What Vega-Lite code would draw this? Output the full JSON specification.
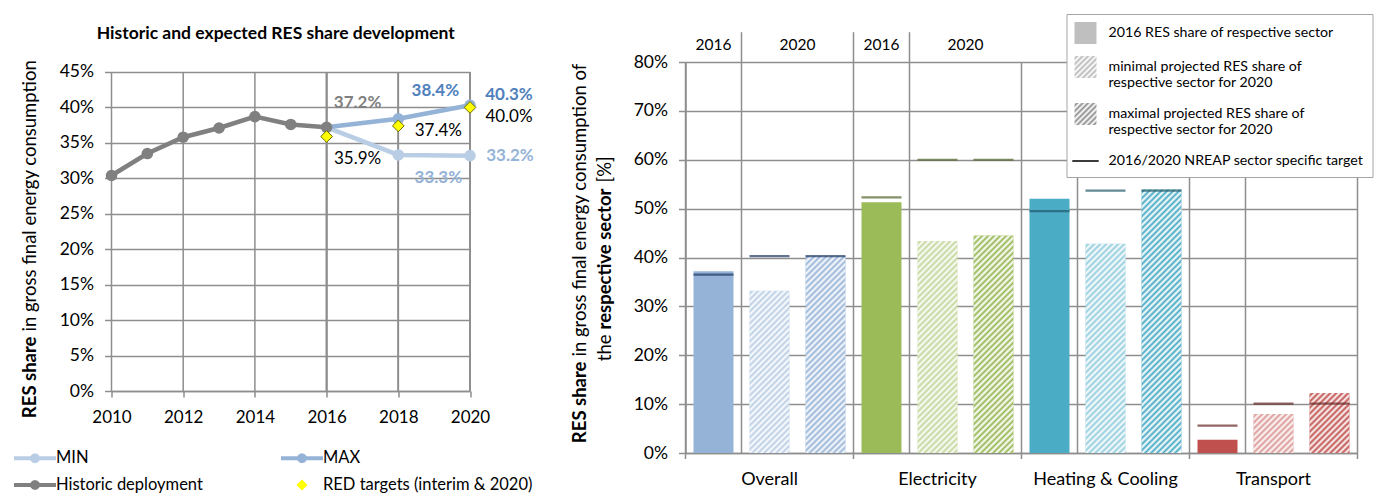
{
  "$schema": "https://vega.github.io/schema/vega-lite/v6.json",
  "background": "white",
  "padding": {"left": 19.5, "top": 13, "right": 5, "bottom": 5},
  "spacing": 215,
  "bounds": "flush",
  "resolve": {
    "scale": {"color": "independent", "fill": "independent", "shape": "independent", "stroke": "independent"},
    "legend": {"color": "independent", "fill": "independent", "shape": "independent", "stroke": "independent"}
  },
  "config": {
    "font": "Lato",
    "view": {"stroke": null},
    "axis": {"domainColor": "#8e8e8e", "domainWidth": 1.5, "tickColor": "#8e8e8e", "tickWidth": 1.5, "gridColor": "#8e8e8e", "gridWidth": 1.5, "gridOpacity": 1, "labelColor": "#000", "titleColor": "#000", "labelFont": "Lato", "titleFont": "Lato"},
    "legend": {"labelFont": "Lato", "labelColor": "#000"}
  },
  "params": [
    {"name": "hatch", "value": [
      {"offset":0,"color":"#fff"},{"offset":0.01,"color":"#fff0"},{"offset":0.02,"color":"#fff"},{"offset":0.03,"color":"#fff0"},{"offset":0.04,"color":"#fff"},{"offset":0.05,"color":"#fff0"},{"offset":0.06,"color":"#fff"},{"offset":0.07,"color":"#fff0"},{"offset":0.08,"color":"#fff"},{"offset":0.09,"color":"#fff0"},
      {"offset":0.1,"color":"#fff"},{"offset":0.11,"color":"#fff0"},{"offset":0.12,"color":"#fff"},{"offset":0.13,"color":"#fff0"},{"offset":0.14,"color":"#fff"},{"offset":0.15,"color":"#fff0"},{"offset":0.16,"color":"#fff"},{"offset":0.17,"color":"#fff0"},{"offset":0.18,"color":"#fff"},{"offset":0.19,"color":"#fff0"},
      {"offset":0.2,"color":"#fff"},{"offset":0.21,"color":"#fff0"},{"offset":0.22,"color":"#fff"},{"offset":0.23,"color":"#fff0"},{"offset":0.24,"color":"#fff"},{"offset":0.25,"color":"#fff0"},{"offset":0.26,"color":"#fff"},{"offset":0.27,"color":"#fff0"},{"offset":0.28,"color":"#fff"},{"offset":0.29,"color":"#fff0"},
      {"offset":0.3,"color":"#fff"},{"offset":0.31,"color":"#fff0"},{"offset":0.32,"color":"#fff"},{"offset":0.33,"color":"#fff0"},{"offset":0.34,"color":"#fff"},{"offset":0.35,"color":"#fff0"},{"offset":0.36,"color":"#fff"},{"offset":0.37,"color":"#fff0"},{"offset":0.38,"color":"#fff"},{"offset":0.39,"color":"#fff0"},
      {"offset":0.4,"color":"#fff"},{"offset":0.41,"color":"#fff0"},{"offset":0.42,"color":"#fff"},{"offset":0.43,"color":"#fff0"},{"offset":0.44,"color":"#fff"},{"offset":0.45,"color":"#fff0"},{"offset":0.46,"color":"#fff"},{"offset":0.47,"color":"#fff0"},{"offset":0.48,"color":"#fff"},{"offset":0.49,"color":"#fff0"},
      {"offset":0.5,"color":"#fff"},{"offset":0.51,"color":"#fff0"},{"offset":0.52,"color":"#fff"},{"offset":0.53,"color":"#fff0"},{"offset":0.54,"color":"#fff"},{"offset":0.55,"color":"#fff0"},{"offset":0.56,"color":"#fff"},{"offset":0.57,"color":"#fff0"},{"offset":0.58,"color":"#fff"},{"offset":0.59,"color":"#fff0"},
      {"offset":0.6,"color":"#fff"},{"offset":0.61,"color":"#fff0"},{"offset":0.62,"color":"#fff"},{"offset":0.63,"color":"#fff0"},{"offset":0.64,"color":"#fff"},{"offset":0.65,"color":"#fff0"},{"offset":0.66,"color":"#fff"},{"offset":0.67,"color":"#fff0"},{"offset":0.68,"color":"#fff"},{"offset":0.69,"color":"#fff0"},
      {"offset":0.7,"color":"#fff"},{"offset":0.71,"color":"#fff0"},{"offset":0.72,"color":"#fff"},{"offset":0.73,"color":"#fff0"},{"offset":0.74,"color":"#fff"},{"offset":0.75,"color":"#fff0"},{"offset":0.76,"color":"#fff"},{"offset":0.77,"color":"#fff0"},{"offset":0.78,"color":"#fff"},{"offset":0.79,"color":"#fff0"},
      {"offset":0.8,"color":"#fff"},{"offset":0.81,"color":"#fff0"},{"offset":0.82,"color":"#fff"},{"offset":0.83,"color":"#fff0"},{"offset":0.84,"color":"#fff"},{"offset":0.85,"color":"#fff0"},{"offset":0.86,"color":"#fff"},{"offset":0.87,"color":"#fff0"},{"offset":0.88,"color":"#fff"},{"offset":0.89,"color":"#fff0"},
      {"offset":0.9,"color":"#fff"},{"offset":0.91,"color":"#fff0"},{"offset":0.92,"color":"#fff"},{"offset":0.93,"color":"#fff0"},{"offset":0.94,"color":"#fff"},{"offset":0.95,"color":"#fff0"},{"offset":0.96,"color":"#fff"},{"offset":0.97,"color":"#fff0"},{"offset":0.98,"color":"#fff"},{"offset":0.99,"color":"#fff0"},
      {"offset":1,"color":"#fff"}
    ]},
    {"name": "legMin", "value": [
      {"offset":0,"color":"#fff"},{"offset":0.0625,"color":"#b8b8b8"},{"offset":0.125,"color":"#fff"},{"offset":0.1875,"color":"#b8b8b8"},{"offset":0.25,"color":"#fff"},{"offset":0.3125,"color":"#b8b8b8"},{"offset":0.375,"color":"#fff"},{"offset":0.4375,"color":"#b8b8b8"},{"offset":0.5,"color":"#fff"},{"offset":0.5625,"color":"#b8b8b8"},{"offset":0.625,"color":"#fff"},{"offset":0.6875,"color":"#b8b8b8"},{"offset":0.75,"color":"#fff"},{"offset":0.8125,"color":"#b8b8b8"},{"offset":0.875,"color":"#fff"},{"offset":0.9375,"color":"#b8b8b8"},{"offset":1,"color":"#fff"}
    ]},
    {"name": "legMax", "value": [
      {"offset":0,"color":"#fff"},{"offset":0.0625,"color":"#8c8c8c"},{"offset":0.125,"color":"#fff"},{"offset":0.1875,"color":"#8c8c8c"},{"offset":0.25,"color":"#fff"},{"offset":0.3125,"color":"#8c8c8c"},{"offset":0.375,"color":"#fff"},{"offset":0.4375,"color":"#8c8c8c"},{"offset":0.5,"color":"#fff"},{"offset":0.5625,"color":"#8c8c8c"},{"offset":0.625,"color":"#fff"},{"offset":0.6875,"color":"#8c8c8c"},{"offset":0.75,"color":"#fff"},{"offset":0.8125,"color":"#8c8c8c"},{"offset":0.875,"color":"#fff"},{"offset":0.9375,"color":"#8c8c8c"},{"offset":1,"color":"#fff"}
    ]}
  ],
  "datasets": {
    "res": [
      {"year": 2010, "value": 0.304, "series": "Historic deployment"},
      {"year": 2011, "value": 0.335, "series": "Historic deployment"},
      {"year": 2012, "value": 0.358, "series": "Historic deployment"},
      {"year": 2013, "value": 0.371, "series": "Historic deployment"},
      {"year": 2014, "value": 0.387, "series": "Historic deployment"},
      {"year": 2015, "value": 0.376, "series": "Historic deployment"},
      {"year": 2016, "value": 0.372, "series": "Historic deployment"},
      {"year": 2016, "value": 0.372, "series": "MIN"},
      {"year": 2018, "value": 0.333, "series": "MIN"},
      {"year": 2020, "value": 0.332, "series": "MIN"},
      {"year": 2016, "value": 0.372, "series": "MAX"},
      {"year": 2018, "value": 0.384, "series": "MAX"},
      {"year": 2020, "value": 0.403, "series": "MAX"},
      {"year": 2016, "value": 0.359, "series": "RED targets (interim & 2020)"},
      {"year": 2018, "value": 0.374, "series": "RED targets (interim & 2020)"},
      {"year": 2020, "value": 0.400, "series": "RED targets (interim & 2020)"}
    ],
    "leftLegend": [
      {"s": "MIN"}, {"s": "MAX"}, {"s": "Historic deployment"}, {"s": "RED targets (interim & 2020)"}
    ],
    "sectors": [
      {"sector": "Overall", "kind": "2016", "slot": "Overall|2016", "value": 0.372, "target": 0.365},
      {"sector": "Overall", "kind": "min", "slot": "Overall|min", "value": 0.332, "target": 0.403},
      {"sector": "Overall", "kind": "max", "slot": "Overall|max", "value": 0.403, "target": 0.403},
      {"sector": "Electricity", "kind": "2016", "slot": "Electricity|2016", "value": 0.513, "target": 0.523},
      {"sector": "Electricity", "kind": "min", "slot": "Electricity|min", "value": 0.434, "target": 0.600},
      {"sector": "Electricity", "kind": "max", "slot": "Electricity|max", "value": 0.445, "target": 0.600},
      {"sector": "Heating & Cooling", "kind": "2016", "slot": "Heating & Cooling|2016", "value": 0.520, "target": 0.495},
      {"sector": "Heating & Cooling", "kind": "min", "slot": "Heating & Cooling|min", "value": 0.428, "target": 0.537},
      {"sector": "Heating & Cooling", "kind": "max", "slot": "Heating & Cooling|max", "value": 0.539, "target": 0.537},
      {"sector": "Transport", "kind": "2016", "slot": "Transport|2016", "value": 0.027, "target": 0.056},
      {"sector": "Transport", "kind": "min", "slot": "Transport|min", "value": 0.080, "target": 0.101},
      {"sector": "Transport", "kind": "max", "slot": "Transport|max", "value": 0.123, "target": 0.101}
    ],
    "legendItems": [
      {"item": "a"}, {"item": "b"}, {"item": "c"}, {"item": "d"}
    ]
  },
  "hconcat": [
    {
      "width": 358.5,
      "height": 329,
      "title": {"text": "Historic and expected RES share development", "fontSize": 17.5, "fontWeight": "bold", "font": "Lato", "color": "#000", "offset": 17, "dx": -15},
      "data": {"name": "res"},
      "resolve": {"axis": {"x": "independent", "y": "independent"}},
      "layer": [
        {
          "transform": [{"filter": {"field": "year", "oneOf": [2010, 2012, 2014, 2016, 2018, 2020]}}],
          "mark": {"type": "rule", "orient": "vertical", "color": "#8e8e8e", "strokeWidth": 1.5},
          "encoding": {
            "x": {"field": "year", "type": "quantitative", "scale": {"domain": [2010, 2020], "nice": false, "zero": false},
              "axis": {"values": [2010, 2012, 2014, 2016, 2018, 2020], "format": "d", "title": null, "grid": false, "tickSize": 6, "labelFontSize": 17, "labelPadding": 12, "labelFlush": false}},
            "y": {"datum": 0, "type": "quantitative", "scale": {"domain": [0, 0.4641], "nice": false, "zero": false},
              "axis": {"orient": "left", "values": [0, 0.05, 0.1, 0.15, 0.2, 0.25, 0.3, 0.35, 0.4, 0.45], "format": ".0%", "grid": true, "domain": false, "tickSize": 7, "labelPadding": 11, "labelFontSize": 17.5,
                "title": "RES share", "titleFontWeight": "bold", "titleFontSize": 18.5, "titleAngle": 270, "titleAlign": "right", "titleBaseline": "middle", "titleX": -82, "titleY": 274}},
            "y2": {"datum": 0.45}
          }
        },
        {
          "transform": [{"filter": "datum.series != 'RED targets (interim & 2020)'"}],
          "mark": {"type": "line", "strokeWidth": 4.5},
          "encoding": {
            "x": {"field": "year", "type": "quantitative", "axis": null},
            "y": {"field": "value", "type": "quantitative",
              "axis": {"orient": "left", "labels": false, "ticks": false, "domain": false, "grid": false,
                "title": "in gross final energy consumption", "titleFontWeight": "normal", "titleFontSize": 18.5, "titleAngle": 270, "titleAlign": "left", "titleBaseline": "middle", "titleX": -82, "titleY": 269}},
            "stroke": {"field": "series", "type": "nominal", "scale": {"domain": ["MIN", "MAX", "Historic deployment"], "range": ["#b9cde5", "#95b3d7", "#808080"]}, "legend": null}
          }
        },
        {
          "transform": [{"filter": "datum.series == 'Historic deployment' || (datum.series != 'RED targets (interim & 2020)' && datum.year > 2016)"}],
          "mark": {"type": "point", "filled": true, "size": 135, "opacity": 1},
          "encoding": {
            "x": {"field": "year", "type": "quantitative", "axis": null},
            "y": {"field": "value", "type": "quantitative", "axis": null},
            "color": {"field": "series", "type": "nominal", "scale": {"domain": ["MIN", "MAX", "Historic deployment"], "range": ["#b9cde5", "#95b3d7", "#808080"]}, "legend": null}
          }
        },
        {
          "transform": [{"filter": "datum.series == 'RED targets (interim & 2020)'"}],
          "mark": {"type": "point", "shape": "diamond", "filled": true, "fill": "#ffff00", "stroke": "#6b6b00", "strokeWidth": 1, "size": 137, "opacity": 1},
          "encoding": {
            "x": {"field": "year", "type": "quantitative", "axis": null},
            "y": {"field": "value", "type": "quantitative", "axis": null}
          }
        },
        {
          "transform": [{"filter": "datum.series == 'Historic deployment' && datum.year == 2016"}],
          "mark": {"type": "text", "fontSize": 17, "fontWeight": "bold", "color": "#7f7f7f", "dx": 31, "dy": -24},
          "encoding": {"x": {"field": "year", "type": "quantitative", "axis": null}, "y": {"field": "value", "type": "quantitative", "axis": null}, "text": {"field": "value", "type": "quantitative", "format": ".1%"}}
        },
        {
          "transform": [{"filter": "datum.series == 'MAX' && datum.year == 2018"}],
          "mark": {"type": "text", "fontSize": 17, "fontWeight": "bold", "color": "#4f81bd", "dx": 37, "dy": -28},
          "encoding": {"x": {"field": "year", "type": "quantitative", "axis": null}, "y": {"field": "value", "type": "quantitative", "axis": null}, "text": {"field": "value", "type": "quantitative", "format": ".1%"}}
        },
        {
          "transform": [{"filter": "datum.series == 'MAX' && datum.year == 2020"}],
          "mark": {"type": "text", "fontSize": 17, "fontWeight": "bold", "color": "#4f81bd", "dx": 39, "dy": -10},
          "encoding": {"x": {"field": "year", "type": "quantitative", "axis": null}, "y": {"field": "value", "type": "quantitative", "axis": null}, "text": {"field": "value", "type": "quantitative", "format": ".1%"}}
        },
        {
          "transform": [{"filter": "datum.series == 'MIN' && datum.year == 2020"}],
          "mark": {"type": "text", "fontSize": 17, "fontWeight": "bold", "color": "#95b3d7", "dx": 40, "dy": 0},
          "encoding": {"x": {"field": "year", "type": "quantitative", "axis": null}, "y": {"field": "value", "type": "quantitative", "axis": null}, "text": {"field": "value", "type": "quantitative", "format": ".1%"}}
        },
        {
          "transform": [{"filter": "datum.series == 'MIN' && datum.year == 2018"}],
          "mark": {"type": "text", "fontSize": 17, "fontWeight": "bold", "color": "#95b3d7", "dx": 40, "dy": 23},
          "encoding": {"x": {"field": "year", "type": "quantitative", "axis": null}, "y": {"field": "value", "type": "quantitative", "axis": null}, "text": {"field": "value", "type": "quantitative", "format": ".1%"}}
        },
        {
          "transform": [{"filter": "datum.series == 'RED targets (interim & 2020)' && datum.year == 2020"}],
          "mark": {"type": "text", "fontSize": 17, "color": "#000", "dx": 39, "dy": 10},
          "encoding": {"x": {"field": "year", "type": "quantitative", "axis": null}, "y": {"field": "value", "type": "quantitative", "axis": null}, "text": {"field": "value", "type": "quantitative", "format": ".1%"}}
        },
        {
          "transform": [{"filter": "datum.series == 'RED targets (interim & 2020)' && datum.year == 2018"}],
          "mark": {"type": "text", "fontSize": 17, "color": "#000", "dx": 40, "dy": 5},
          "encoding": {"x": {"field": "year", "type": "quantitative", "axis": null}, "y": {"field": "value", "type": "quantitative", "axis": null}, "text": {"field": "value", "type": "quantitative", "format": ".1%"}}
        },
        {
          "transform": [{"filter": "datum.series == 'RED targets (interim & 2020)' && datum.year == 2016"}],
          "mark": {"type": "text", "fontSize": 17, "color": "#000", "dx": 31, "dy": 22},
          "encoding": {"x": {"field": "year", "type": "quantitative", "axis": null}, "y": {"field": "value", "type": "quantitative", "axis": null}, "text": {"field": "value", "type": "quantitative", "format": ".1%"}}
        },
        {
          "data": {"name": "leftLegend"},
          "mark": {"type": "point", "filled": true, "opacity": 0},
          "encoding": {
            "fill": {"field": "s", "type": "nominal",
              "scale": {"domain": ["MIN", "Historic deployment", "MAX", "RED targets (interim & 2020)"], "range": ["#b9cde5", "#808080", "#95b3d7", "#ffff00"]},
              "legend": {"title": null, "orient": "none", "legendX": -86.5, "legendY": 386, "columns": 2, "columnPadding": 78, "rowPadding": 8, "padding": 0,
                "symbolSize": 400, "symbolOpacity": 1, "symbolStrokeWidth": 0, "labelFontSize": 16.5, "labelOffset": 11, "labelLimit": 300}},
            "shape": {"field": "s", "type": "nominal",
              "scale": {"domain": ["MIN", "Historic deployment", "MAX", "RED targets (interim & 2020)"],
                "range": [
                  "M-2.1,-0.2L2.1,-0.2L2.1,0.2L-2.1,0.2Z M0.5,0L0.433,0.25L0.25,0.433L0,0.5L-0.25,0.433L-0.433,0.25L-0.5,0L-0.433,-0.25L-0.25,-0.433L0,-0.5L0.25,-0.433L0.433,-0.25Z",
                  "M-2.1,-0.2L2.1,-0.2L2.1,0.2L-2.1,0.2Z M0.5,0L0.433,0.25L0.25,0.433L0,0.5L-0.25,0.433L-0.433,0.25L-0.5,0L-0.433,-0.25L-0.25,-0.433L0,-0.5L0.25,-0.433L0.433,-0.25Z",
                  "M-2.1,-0.2L2.1,-0.2L2.1,0.2L-2.1,0.2Z M0.5,0L0.433,0.25L0.25,0.433L0,0.5L-0.25,0.433L-0.433,0.25L-0.5,0L-0.433,-0.25L-0.25,-0.433L0,-0.5L0.25,-0.433L0.433,-0.25Z",
                  "M-0.55,0L0,-0.55L0.55,0L0,0.55Z"]},
              "legend": {"title": null, "orient": "none", "legendX": -86.5, "legendY": 386, "columns": 2, "columnPadding": 78, "rowPadding": 8, "padding": 0,
                "symbolSize": 400, "symbolOpacity": 1, "symbolStrokeWidth": 0, "labelFontSize": 16.5, "labelOffset": 11, "labelLimit": 300}}
          }
        }
      ]
    },
    {
      "width": 672,
      "height": 391,
      "data": {"name": "sectors"},
      "resolve": {"axis": {"x": "independent", "y": "independent"}},
      "layer": [
        {
          "transform": [{"filter": "datum.kind == '2016'"}],
          "mark": {"type": "rule", "color": "#8e8e8e", "strokeWidth": 1.5},
          "encoding": {
            "x": {"field": "slot", "type": "nominal", "bandPosition": 0,
              "scale": {"domain": ["Overall|2016", "Overall|min", "Overall|max", "Electricity|2016", "Electricity|min", "Electricity|max", "Heating & Cooling|2016", "Heating & Cooling|min", "Heating & Cooling|max", "Transport|2016", "Transport|min", "Transport|max"], "paddingInner": 0, "paddingOuter": 0},
              "axis": {"title": null, "ticks": false, "grid": false, "labelAngle": 0, "labelFontSize": 18, "labelPadding": 17, "labelOverlap": false, "labelExpr": "indexof(datum.value, '|min') > 0 ? slice(datum.value, 0, indexof(datum.value, '|')) : ''"}},
            "y": {"datum": -0.0123, "type": "quantitative", "scale": {"domain": [0, 0.8], "nice": false},
              "axis": {"orient": "left", "values": [0, 0.1, 0.2, 0.3, 0.4, 0.5, 0.6, 0.7, 0.8], "format": ".0%", "grid": true, "tickSize": 7, "labelPadding": 11, "labelFontSize": 17.5,
                "title": "RES share", "titleFontWeight": "bold", "titleFontSize": 18.5, "titleAngle": 270, "titleAlign": "right", "titleBaseline": "middle", "titleX": -106, "titleY": 299}},
            "y2": {"datum": 0.8}
          }
        },
        {
          "transform": [{"filter": "datum.kind == 'min'"}],
          "mark": {"type": "rule", "color": "#8e8e8e", "strokeWidth": 1.5},
          "encoding": {
            "x": {"field": "slot", "type": "nominal", "bandPosition": 0, "axis": null},
            "y": {"datum": 0, "type": "quantitative", "axis": null},
            "y2": {"datum": 0.8}
          }
        },
        {
          "transform": [{"filter": "datum.slot == 'Transport|max'"}],
          "mark": {"type": "rule", "color": "#8e8e8e", "strokeWidth": 1.5},
          "encoding": {
            "x": {"field": "slot", "type": "nominal", "bandPosition": 1, "axis": null},
            "y": {"datum": -0.0123, "type": "quantitative", "axis": null},
            "y2": {"datum": 0.8}
          }
        },
        {
          "transform": [{"filter": "(datum.kind == 'min' && (datum.sector == 'Overall' || datum.sector == 'Electricity')) || datum.slot == 'Electricity|2016'"}],
          "mark": {"type": "rule", "color": "#8e8e8e", "strokeWidth": 1.5},
          "encoding": {
            "x": {"field": "slot", "type": "nominal", "bandPosition": 0, "axis": null},
            "y": {"datum": 0.8, "type": "quantitative", "axis": null},
            "y2": {"datum": 0.861}
          }
        },
        {
          "transform": [{"filter": "datum.kind == '2016' && (datum.sector == 'Overall' || datum.sector == 'Electricity')"}],
          "mark": {"type": "text", "fontSize": 15.5, "color": "#000"},
          "encoding": {
            "x": {"field": "slot", "type": "nominal", "bandPosition": 0.5, "axis": null},
            "y": {"datum": 0.835, "type": "quantitative", "axis": null},
            "text": {"field": "kind", "type": "nominal"}
          }
        },
        {
          "transform": [{"filter": "datum.kind == 'max' && (datum.sector == 'Overall' || datum.sector == 'Electricity')"}],
          "mark": {"type": "text", "fontSize": 15.5, "color": "#000"},
          "encoding": {
            "x": {"field": "slot", "type": "nominal", "bandPosition": 0, "axis": null},
            "y": {"datum": 0.835, "type": "quantitative", "axis": null},
            "text": {"value": "2020"}
          }
        },
        {
          "transform": [{"filter": "datum.kind == '2016'"}],
          "mark": {"type": "bar", "width": {"band": 0.714}},
          "encoding": {
            "x": {"field": "slot", "type": "nominal", "axis": null},
            "y": {"field": "value", "type": "quantitative",
              "axis": {"orient": "left", "labels": false, "ticks": false, "domain": false, "grid": false,
                "title": "in gross final energy consumption of", "titleFontWeight": "normal", "titleFontSize": 18.5, "titleAngle": 270, "titleAlign": "left", "titleBaseline": "middle", "titleX": -106, "titleY": 294}},
            "color": {"condition": [
              {"test": "datum.sector == 'Overall'", "value": "#95b3d7"},
              {"test": "datum.sector == 'Electricity'", "value": "#9bbb59"},
              {"test": "datum.sector == 'Heating & Cooling'", "value": "#4bacc6"}
            ], "value": "#c0504d"}
          }
        },
        {
          "transform": [{"filter": "datum.kind != '2016'"}],
          "mark": {"type": "bar", "width": {"band": 0.714}},
          "encoding": {
            "x": {"field": "slot", "type": "nominal", "axis": null},
            "y": {"field": "value", "type": "quantitative",
              "axis": {"orient": "left", "labels": false, "ticks": false, "domain": false, "grid": false,
                "title": "the", "titleFontWeight": "normal", "titleFontSize": 18.5, "titleAngle": 270, "titleAlign": "right", "titleBaseline": "middle", "titleX": -81, "titleY": 272}},
            "color": {"condition": [
              {"test": "datum.slot == 'Overall|min'", "value": "#b9cde5"},
              {"test": "datum.slot == 'Overall|max'", "value": "#95b3d7"},
              {"test": "datum.slot == 'Electricity|min'", "value": "#c3d69b"},
              {"test": "datum.slot == 'Electricity|max'", "value": "#9bbb59"},
              {"test": "datum.slot == 'Heating & Cooling|min'", "value": "#92cddc"},
              {"test": "datum.slot == 'Heating & Cooling|max'", "value": "#4bacc6"},
              {"test": "datum.slot == 'Transport|min'", "value": "#d99694"}
            ], "value": "#c0504d"}
          }
        },
        {
          "transform": [{"filter": "datum.kind != '2016'"}],
          "mark": {"type": "bar", "width": {"band": 0.714},
            "fill": {"expr": "{gradient: 'linear', x1: 0, y1: 0, x2: 12000 / (1600 + pow(datum.value * 488.75, 2)), y2: datum.value * 146625 / (1600 + pow(datum.value * 488.75, 2)), stops: hatch}"}},
          "encoding": {
            "x": {"field": "slot", "type": "nominal", "axis": null},
            "y": {"field": "value", "type": "quantitative",
              "axis": {"orient": "left", "labels": false, "ticks": false, "domain": false, "grid": false,
                "title": "respective sector", "titleFontWeight": "bold", "titleFontSize": 18.5, "titleAngle": 270, "titleAlign": "left", "titleBaseline": "middle", "titleX": -81, "titleY": 267}}
          }
        },
        {
          "mark": {"type": "tick", "size": 40, "thickness": 2.2},
          "encoding": {
            "x": {"field": "slot", "type": "nominal", "axis": null},
            "y": {"field": "target", "type": "quantitative",
              "axis": {"orient": "left", "labels": false, "ticks": false, "domain": false, "grid": false,
                "title": "[%]", "titleFontWeight": "normal", "titleFontSize": 18.5, "titleAngle": 270, "titleAlign": "left", "titleBaseline": "middle", "titleX": -81, "titleY": 120}},
            "color": {"condition": [
              {"test": "datum.sector == 'Overall'", "value": "#1f3864"},
              {"test": "datum.sector == 'Electricity'", "value": "#4f6228"},
              {"test": "datum.sector == 'Heating & Cooling'", "value": "#215968"}
            ], "value": "#632523"}
          }
        },
        {
          "data": {"name": "legendItems"},
          "mark": {"type": "point", "filled": true, "opacity": 0},
          "encoding": {
            "fill": {"field": "item", "type": "nominal",
              "scale": {"domain": ["a", "b", "c", "d"], "range": ["#bfbfbf", {"expr": "{gradient: 'linear', x1: 0, y1: 0, x2: 1, y2: 1, stops: legMin}"}, {"expr": "{gradient: 'linear', x1: 0, y1: 0, x2: 1, y2: 1, stops: legMax}"}, "#000"]},
              "legend": {"title": null, "orient": "none", "legendX": 381, "legendY": -48, "symbolSize": 484, "symbolOpacity": 1, "symbolStrokeWidth": 0,
                "labelFontSize": 14.2, "labelOffset": 12, "labelLimit": 400, "rowPadding": 12, "padding": 8, "strokeColor": "#a6a6a6", "fillColor": "#ffffff",
                "labelExpr": "datum.value == 'a' ? '2016 RES share of respective sector' : datum.value == 'b' ? ['minimal projected RES share of', 'respective sector for 2020'] : datum.value == 'c' ? ['maximal projected RES share of', 'respective sector for 2020'] : '2016/2020 NREAP sector specific target'"}},
            "shape": {"field": "item", "type": "nominal",
              "scale": {"domain": ["a", "b", "c", "d"], "range": ["square", "square", "square", "M-1.2,-0.07H1.2V0.07H-1.2Z"]},
              "legend": {"title": null, "orient": "none", "legendX": 381, "legendY": -48, "symbolSize": 484, "symbolOpacity": 1, "symbolStrokeWidth": 0,
                "labelFontSize": 14.2, "labelOffset": 12, "labelLimit": 400, "rowPadding": 12, "padding": 8, "strokeColor": "#a6a6a6", "fillColor": "#ffffff",
                "labelExpr": "datum.value == 'a' ? '2016 RES share of respective sector' : datum.value == 'b' ? ['minimal projected RES share of', 'respective sector for 2020'] : datum.value == 'c' ? ['maximal projected RES share of', 'respective sector for 2020'] : '2016/2020 NREAP sector specific target'"}}
          }
        }
      ]
    }
  ]
}
